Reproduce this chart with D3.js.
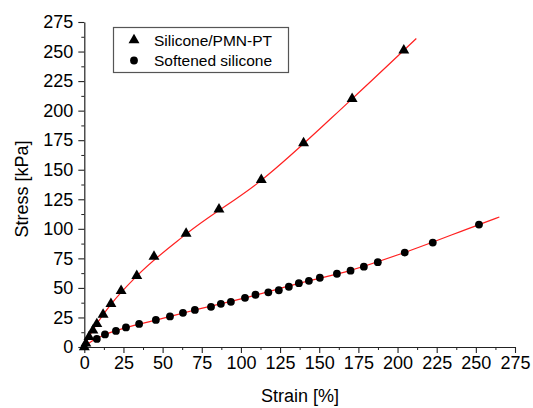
<!DOCTYPE html>
<html><head><meta charset="utf-8">
<script src="https://cdn.jsdelivr.net/npm/d3@7"></script>
<style>body{margin:0;background:#fff}svg{display:block}text{font-family:"Liberation Sans",Arial,sans-serif}</style>
</head><body><svg id="c" width="533" height="408"></svg>
<script>
// Silicone/PMN-PT (triangles): strain [%], stress [kPa]
const triStrain = [0, 1, 3, 5.5, 8, 12, 17, 23.5, 33.5, 44.5, 65, 86, 113, 140, 171, 204];
const triStress = [0, 3, 8.5, 14, 19.5, 27.5, 36.5, 47.5, 60.3, 76.5, 96, 116.5, 141.5, 172.5, 210, 251];
// Softened silicone (circles)
const cirStrain = [8, 13.2, 20.2, 26.6, 35, 45.7, 54.7, 63, 70.6, 80.9, 87.2, 93.6, 102.6, 109.3, 117.5, 124.2, 130.6, 137, 143.4, 150.4, 161.3, 170, 178.5, 187.4, 204.6, 222.5, 252];
const cirStress = [6.8, 10.6, 13.6, 16.6, 19.5, 22.9, 25.9, 28.9, 31.4, 34, 36.5, 38.2, 41.6, 44.2, 46.3, 48, 51, 54, 56, 58.6, 62, 64.6, 68, 71.8, 79.9, 88.4, 103.6];
// fitted curves
const fitAStrain = [0, 3, 8, 17, 33.5, 65, 113, 171, 212];
const fitAStress = [0, 8.5, 19.5, 36, 60, 95.5, 141, 210, 261];
const fitBStrain = [0, 5, 13, 26.6, 45.7, 70.6, 102.6, 137, 170, 204.6, 252, 265];
const fitBStress = [0, 5, 10.3, 16.4, 22.8, 31.3, 41.5, 53.8, 64.8, 80, 103.6, 110];
const ticks = [0, 25, 50, 75, 100, 125, 150, 175, 200, 225, 250, 275];
const minorTicks = [12.5, 37.5, 62.5, 87.5, 112.5, 137.5, 162.5, 187.5, 212.5, 237.5, 262.5];
const legendLabels = ["Silicone/PMN-PT", "Softened silicone"];

const svg = d3.select("#c");
const x = d3.scaleLinear().domain([0, 275]).range([84.3, 515]);
const y = d3.scaleLinear().domain([0, 275]).range([347, 22]);

function styleAxis(g){
  g.select(".domain").attr("stroke","#222").attr("stroke-width",1.2);
  g.selectAll(".tick line").attr("stroke","#222").attr("stroke-width",1.1);
  g.selectAll("text").attr("font-size","18px").attr("fill","#000").attr("font-family","'Liberation Sans',Arial,sans-serif");
}
const gx = svg.append("g").attr("transform",`translate(0,${y(0)})`)
  .call(d3.axisBottom(x).tickValues(ticks).tickSize(6).tickPadding(3).tickSizeOuter(0));
styleAxis(gx);
const gxm = svg.append("g").attr("transform",`translate(0,${y(0)})`)
  .call(d3.axisBottom(x).tickValues(minorTicks).tickSize(3).tickFormat(""));
gxm.select(".domain").remove(); gxm.selectAll("line").attr("stroke","#222");

const gy = svg.append("g").attr("transform",`translate(${x(0)},0)`)
  .call(d3.axisLeft(y).tickValues(ticks).tickSize(6).tickPadding(5).tickSizeOuter(0));
styleAxis(gy);
const gym = svg.append("g").attr("transform",`translate(${x(0)},0)`)
  .call(d3.axisLeft(y).tickValues(minorTicks).tickSize(3).tickFormat(""));
gym.select(".domain").remove(); gym.selectAll("line").attr("stroke","#222");

svg.append("text").attr("x",300).attr("y",402).attr("text-anchor","middle").attr("font-size","18px").text("Strain [%]");
svg.append("text").attr("transform","translate(28,189) rotate(-90)").attr("text-anchor","middle").attr("font-size","18px").text("Stress [kPa]");

const line = d3.line().x(d=>x(d[0])).y(d=>y(d[1])).curve(d3.curveMonotoneX);
svg.append("path").datum(fitAStrain.map((v,i)=>[v,fitAStress[i]])).attr("d",line).attr("fill","none").attr("stroke","#ff2020").attr("stroke-width",1.2);
svg.append("path").datum(fitBStrain.map((v,i)=>[v,fitBStress[i]])).attr("d",line).attr("fill","none").attr("stroke","#ff2020").attr("stroke-width",1.2);

const tri = d3.symbol().type(d3.symbolTriangle).size(52);
svg.selectAll(".tri").data(triStrain.map((v,i)=>[v,triStress[i]])).join("path")
  .attr("transform",d=>`translate(${x(d[0])},${y(d[1])})`).attr("d",tri).attr("fill","#000");
svg.selectAll(".cir").data(cirStrain.map((v,i)=>[v,cirStress[i]])).join("circle")
  .attr("cx",d=>x(d[0])).attr("cy",d=>y(d[1])).attr("r",3.9).attr("fill","#000");

// legend
svg.append("rect").attr("x",113.5).attr("y",27.5).attr("width",175).attr("height",45).attr("fill","#fff").attr("stroke","#555").attr("stroke-width",1.2);
svg.append("path").attr("transform","translate(134,40)").attr("d",tri).attr("fill","#000");
svg.append("circle").attr("cx",134).attr("cy",60.5).attr("r",3.9).attr("fill","#000");
legendLabels.forEach((t,i)=>{
  svg.append("text").attr("x",154).attr("y",46+i*20).attr("font-size","15.5px").text(t);
});
</script></body></html>
